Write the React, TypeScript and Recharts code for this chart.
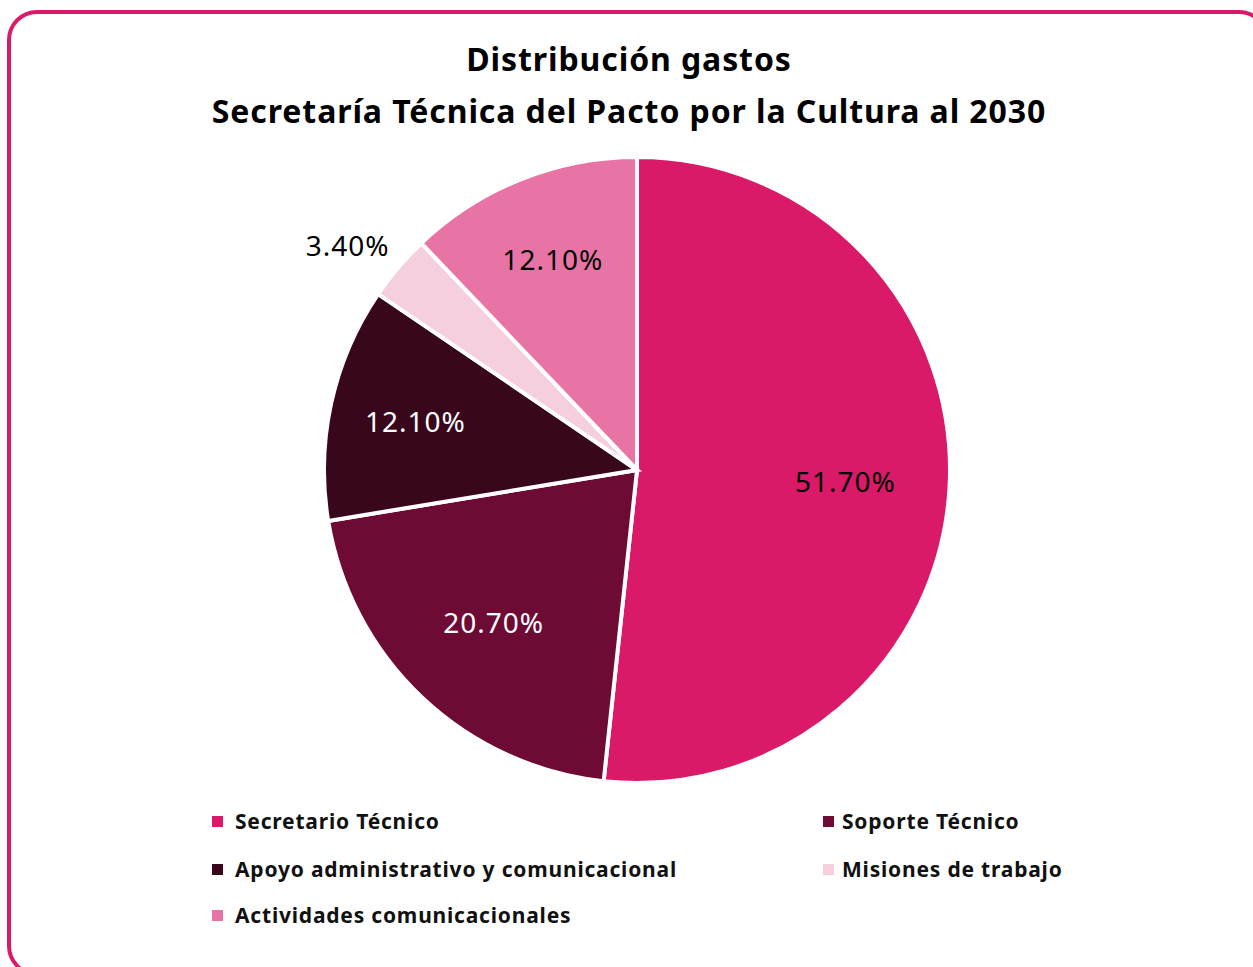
import { PieChart, Pie, Cell, Legend } from 'recharts';

const categories = [
  'Secretario Técnico',
  'Soporte Técnico',
  'Apoyo administrativo y comunicacional',
  'Misiones de trabajo',
  'Actividades comunicacionales',
];
const shares = [51.7, 20.7, 12.1, 3.4, 12.1];
const colors = ['#DA1A68', '#6E0B35', '#38071C', '#F6CFDF', '#E874A6'];
const labelColors = ['#000000', '#FFFFFF', '#FFFFFF', '#000000', '#000000'];

const data = categories.map((name, i) => ({ name, value: shares[i] }));

const FONT = '"Noto Sans", "Open Sans", sans-serif';
const RADIAN = Math.PI / 180;

const renderLabel = (props: any) => {
  const { cx, cy, midAngle, outerRadius, index, value } = props;
  let r = outerRadius * 0.667;
  let a = midAngle;
  if (value < 5) {
    // small slice: label sits outside the pie, no leader line
    r = outerRadius * 1.17;
    a = midAngle + 2.5;
  } else if (value < 15) r = outerRadius * 0.725;
  const x = cx + r * Math.cos(-a * RADIAN);
  const y = cy + r * Math.sin(-a * RADIAN);
  return (
    <text
      x={x}
      y={y}
      fill={labelColors[index]}
      textAnchor="middle"
      dominantBaseline="central"
      fontSize={28}
      letterSpacing={1}
      fontFamily={FONT}
    >
      {value.toFixed(2)}%
    </text>
  );
};

// legend cell positions: two columns, filled row by row
const legendPos = [
  { left: 212, top: 807 },
  { left: 823, top: 807 },
  { left: 212, top: 855 },
  { left: 823, top: 855 },
  { left: 212, top: 901 },
];

const renderLegend = (props: any) => {
  const payload = [...(props.payload || [])].sort(
    (a: any, b: any) => categories.indexOf(a.value) - categories.indexOf(b.value)
  );
  return (
    <div style={{ position: 'relative', width: 1253, height: 967 }}>
      {payload.map((entry: any, i: number) => (
        <div
          key={entry.value}
          style={{
            position: 'absolute',
            left: legendPos[i].left,
            top: legendPos[i].top,
            display: 'flex',
            alignItems: 'center',
            fontFamily: FONT,
            fontWeight: 700,
            fontSize: 21,
            letterSpacing: 0.8,
            color: '#111',
            whiteSpace: 'nowrap',
          }}
        >
          <span
            style={{
              display: 'inline-block',
              width: 11,
              height: 11,
              background: entry.color,
              marginRight: i % 2 === 1 ? 8 : 12,
            }}
          />
          {entry.value}
        </div>
      ))}
    </div>
  );
};

export default function App() {
  return (
    <div
      style={{
        position: 'absolute',
        left: 0,
        top: 0,
        width: 1253,
        height: 967,
        overflow: 'hidden',
        background: '#fff',
      }}
    >
      <div
        style={{
          position: 'absolute',
          left: 7,
          top: 10,
          width: 1262,
          height: 966,
          border: '4px solid #DA1A68',
          borderRadius: 30,
          boxSizing: 'border-box',
        }}
      />
      <div
        style={{
          position: 'absolute',
          left: 0,
          width: 1258,
          top: 33,
          textAlign: 'center',
          fontFamily: FONT,
          fontWeight: 700,
          fontSize: 32,
          letterSpacing: 0.9,
          lineHeight: '52px',
          color: '#000',
        }}
      >
        <div>Distribución gastos</div>
        <div>Secretaría Técnica del Pacto por la Cultura al 2030</div>
      </div>
      <div style={{ position: 'absolute', left: 0, top: 0 }}>
        <PieChart width={1253} height={967} margin={{ top: 0, right: 0, bottom: 0, left: 0 }}>
          <Pie
            data={data}
            dataKey="value"
            nameKey="name"
            cx={637}
            cy={470}
            outerRadius={313}
            startAngle={90}
            endAngle={-270}
            stroke="#FFFFFF"
            strokeWidth={4}
            label={renderLabel}
            labelLine={false}
            isAnimationActive={false}
          >
            {data.map((d, i) => (
              <Cell key={d.name} fill={colors[i]} />
            ))}
          </Pie>
          <Legend
            content={renderLegend}
            wrapperStyle={{ left: 0, top: 0, width: 1253, height: 967, pointerEvents: 'none' }}
          />
        </PieChart>
      </div>
    </div>
  );
}
